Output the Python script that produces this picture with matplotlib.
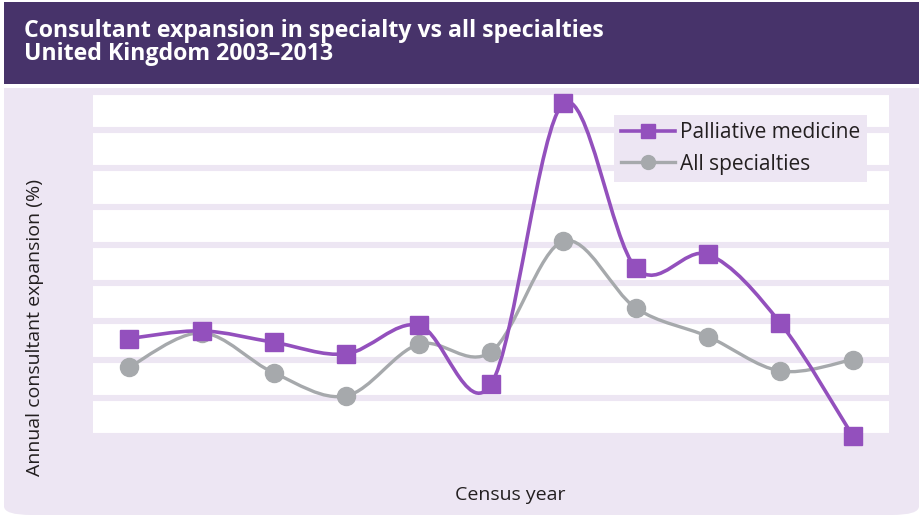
import numpy as np
import matplotlib.pyplot as plt
from matplotlib.path import Path
from matplotlib.patches import PathPatch, Rectangle, FancyBboxPatch
from matplotlib.lines import Line2D

# Données (en %)
annees = [2003, 2004, 2005, 2006, 2007, 2008, 2009, 2010, 2011, 2012, 2013]
palliatif = [3.1, 3.5, 2.9, 2.3, 3.8, 0.7, 15.4, 6.8, 7.5, 3.9, -2.0]
toutes = [1.6, 3.4, 1.3, 0.1, 2.8, 2.4, 8.2, 4.7, 3.2, 1.4, 2.0]
y_min, y_max, y_pas = -2, 16, 2

violet = '#9350bd'
gris = '#a6a9ac'
lavande = '#ede6f3'
entete = '#47336a'

plt.rcParams['font.family'] = ['Open Sans', 'DejaVu Sans']

W, H = 919, 517
fig = plt.figure(figsize=(W / 100, H / 100), dpi=100)
fig.patch.set_facecolor('white')


def px(x, y):
    return x / W, 1 - y / H


# --- fond : bandeau titre + panneau lavande ---
fond = [
    Rectangle(px(4, 84), 915 / W, 82 / H, facecolor=entete),
    FancyBboxPatch(px(4, 515), 915 / W, 427 / H, boxstyle='round,pad=0,rounding_size=0.03',
                   mutation_aspect=H / W, facecolor=lavande),
    Rectangle(px(4, 160), 915 / W, 72 / H, facecolor=lavande),
]
for p in fond:
    p.set_transform(fig.transFigure)
    p.set_edgecolor('none')
    p.set_zorder(-10)
    fig.patches.append(p)

fig.text(*px(24, 37), 'Consultant expansion in specialty vs all specialties',
         color='white', fontsize=16.7, fontweight='bold', va='baseline', ha='left')
fig.text(*px(24, 60), 'United Kingdom 2003\u20132013',
         color='white', fontsize=16.7, fontweight='bold', va='baseline', ha='left')

# --- zone de tracé ---
gauche, droite, haut, bas = 93, 889, 92, 436
ax = fig.add_axes([gauche / W, 1 - bas / H, (droite - gauche) / W, (bas - haut) / H])
ax.set_facecolor('white')
for s in ax.spines.values():
    s.set_visible(False)
ax.set_xlim(-0.5, len(annees) - 0.5)
ax.set_ylim(y_min, y_max)
ax.set_yticks(np.arange(y_min, y_max + 0.1, y_pas))
ax.set_xticks(range(len(annees)))
ax.tick_params(length=0, labelleft=False, labelbottom=False)
ax.yaxis.grid(True, color=lavande, linewidth=4.4)
ax.set_axisbelow(True)


def courbe_lissee(x, y):
    # lissage type Excel (Catmull-Rom -> Bézier cubique)
    pts = np.column_stack([x, y]).astype(float)
    ext = np.vstack([pts[0], pts, pts[-1]])
    verts = [pts[0]]
    codes = [Path.MOVETO]
    for i in range(len(pts) - 1):
        p0, p1, p2, p3 = ext[i], ext[i + 1], ext[i + 2], ext[i + 3]
        verts += [p1 + (p2 - p0) / 6, p2 - (p3 - p1) / 6, p2]
        codes += [Path.CURVE4] * 3
    return Path(verts, codes)


xs = np.arange(len(annees))
ax.add_patch(PathPatch(courbe_lissee(xs, toutes), facecolor='none', edgecolor=gris,
                       linewidth=2.4, zorder=3, clip_on=False))
ax.add_patch(PathPatch(courbe_lissee(xs, palliatif), facecolor='none', edgecolor=violet,
                       linewidth=2.6, zorder=4, clip_on=False))
ax.plot(xs, toutes, linestyle='none', marker='o', markersize=13, color=gris,
        zorder=5, clip_on=False)
ax.plot(xs, palliatif, linestyle='none', marker='s', markersize=13, color=violet,
        zorder=6, clip_on=False)

poignees = [Line2D([], [], color=violet, lw=2.6, marker='s', markersize=10),
            Line2D([], [], color=gris, lw=2.4, marker='o', markersize=10)]
leg = ax.legend(poignees, ['Palliative medicine', 'All specialties'],
                loc='upper left', bbox_to_anchor=px(614, 115), bbox_transform=fig.transFigure,
                frameon=True, fancybox=False, framealpha=1, facecolor=lavande,
                edgecolor='none', fontsize=15, handlelength=2.6, handletextpad=0.2,
                borderpad=0.35, labelspacing=0.5, borderaxespad=0)
for t in leg.get_texts():
    t.set_color('#231f20')

fig.text(*px(35, 328), 'Annual consultant expansion (%)', rotation=90,
         fontsize=14, color='#231f20', ha='center', va='center')
fig.text(*px(510, 495), 'Census year', fontsize=14, color='#231f20',
         ha='center', va='center')

fig.savefig('out.png', dpi=100)
